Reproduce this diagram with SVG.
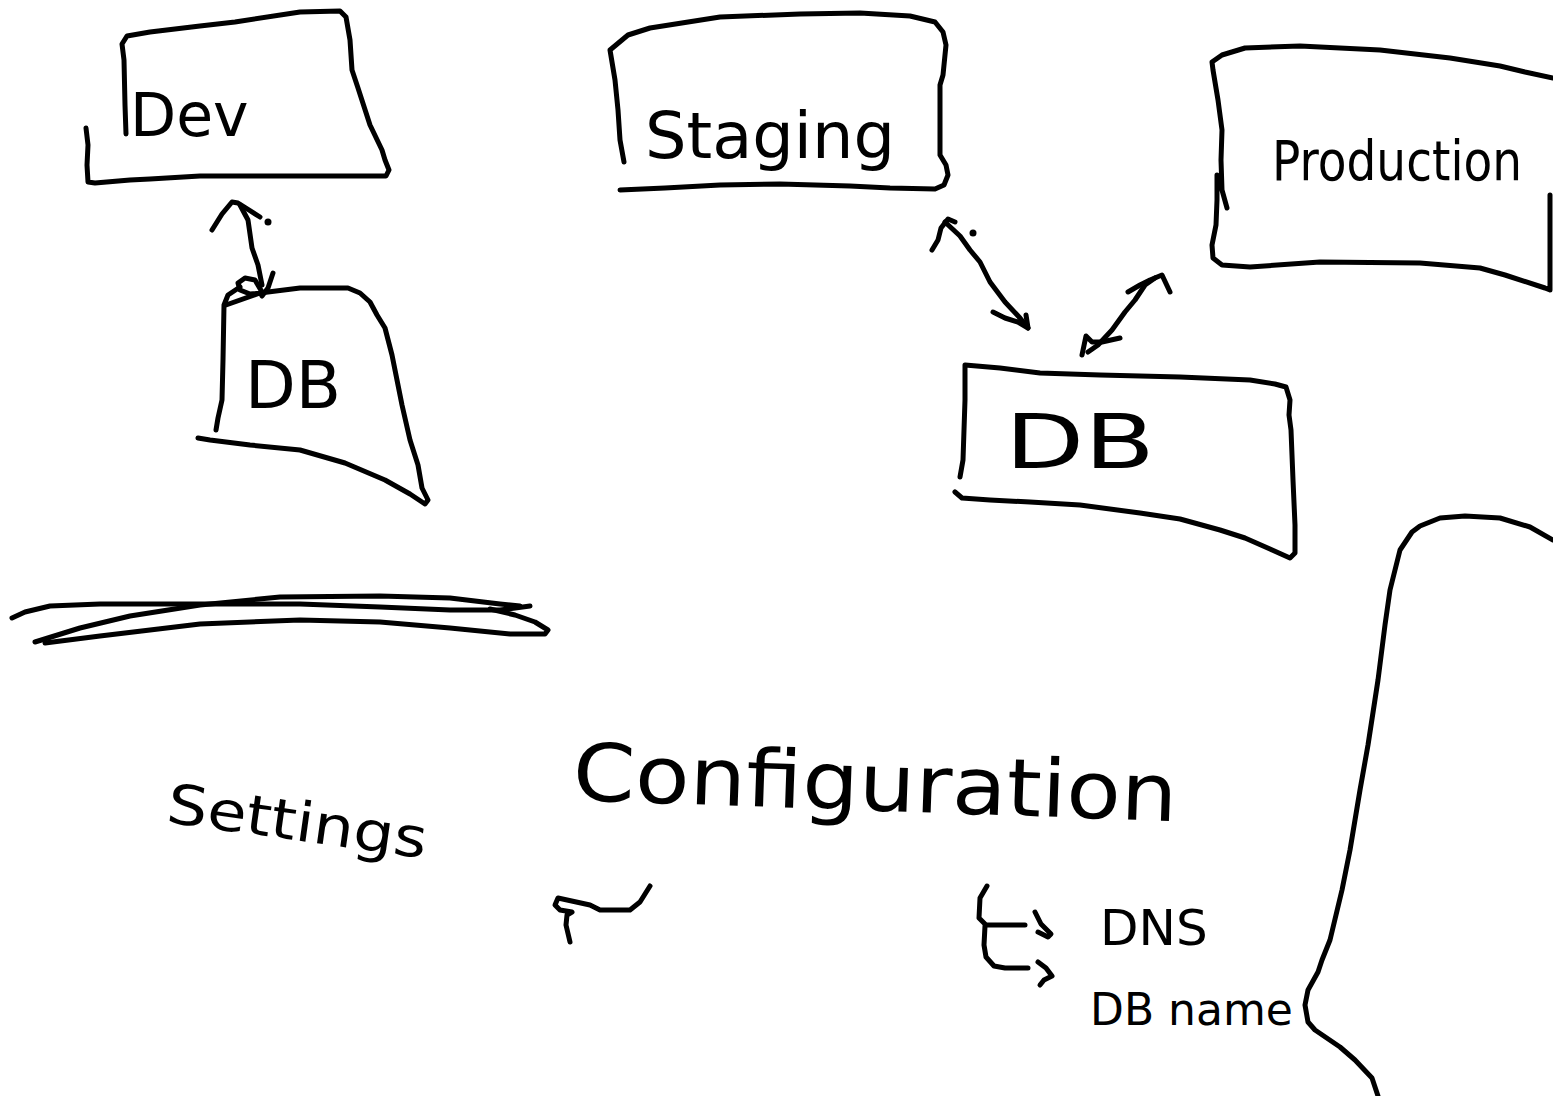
<svg xmlns="http://www.w3.org/2000/svg" width="1553" height="1096" viewBox="0 0 1553 1096">
  <style>
    .ink { fill: none; stroke: #000; stroke-width: 5; stroke-linecap: round; stroke-linejoin: round; }
    .hand { font-family: "DejaVu Sans", "Liberation Sans", sans-serif; fill: #000; }
  </style>
  <rect width="1553" height="1096" fill="#fff"/>

  <!-- Environment boxes -->
  <g id="dev">
    <path class="ink" d="M126,134 L125,105 L124,60 L122,44 L127,36 L150,32 L200,26 L235,22 L300,12 L340,11 L346,17 L350,40 L352,70 L358,88 L370,125 L382,150 L385,160 L389,170 L386,176 L300,176 L200,176 L150,179 L130,180 L95,183 L88,182 L87,165 L88,145 L86,128"/>
    <text class="hand" x="130" y="136" font-size="60">Dev</text>
  </g>

  <g id="dev-db">
    <path class="ink" d="M216,430 L218,418 L222,400 L223,360 L224,305 L228,295 L240,287 M226,305 L260,293 L300,288 L348,288 L360,293 L370,302 L377,315 L385,328 L392,355 L402,405 L410,440 L418,465 L422,488 L428,500 L425,504 L410,494 L385,480 L345,463 L300,450 L250,445 L210,440 L198,438"/>
    <text class="hand" x="245" y="408" font-size="66">DB</text>
  </g>

  <g id="staging">
    <path class="ink" d="M624,162 L620,140 L618,110 L615,80 L610,50 L628,35 L650,28 L720,17 L800,14 L860,13 L910,16 L935,22 L943,32 L946,45 L943,75 L940,85 L940,155 L946,165 L948,175 L944,185 L935,189 L890,188 L850,186 L780,184 L720,185 L665,188 L620,190"/>
    <text class="hand" x="645" y="158" font-size="64" textLength="250" lengthAdjust="spacingAndGlyphs">Staging</text>
  </g>

  <g id="production">
    <path class="ink" d="M1227,208 L1222,190 L1221,160 L1222,130 L1218,100 L1213,70 L1212,62 L1222,55 L1245,48 L1300,46 L1380,50 L1450,58 L1500,66 L1525,72 L1553,78 M1550,195 L1550,290 L1545,288 L1505,275 L1480,268 L1420,263 L1320,262 L1250,267 L1222,265 L1213,258 L1212,245 L1216,225 L1217,200 L1217,175"/>
    <text class="hand" x="1272" y="180" font-size="56" textLength="250" lengthAdjust="spacingAndGlyphs">Production</text>
  </g>

  <g id="prod-db">
    <path class="ink" d="M960,477 L963,460 L965,400 L965,365 L1000,368 L1040,373 L1100,375 L1180,377 L1250,380 L1275,384 L1286,387 L1290,400 L1289,415 L1291,430 L1293,480 L1295,525 L1295,553 L1290,558 L1270,549 L1245,538 L1220,530 L1180,519 L1140,513 L1080,505 L1030,502 L990,500 L962,498 L955,492"/>
    <text class="hand" x="1005" y="468" font-size="75" textLength="150" lengthAdjust="spacingAndGlyphs">DB</text>
  </g>

  <!-- Right-hand outline -->
  <g id="outline">
    <path class="ink" d="M1378,1096 L1372,1078 L1355,1060 L1340,1047 L1315,1030 L1308,1022 L1305,1005 L1308,990 L1318,972 L1322,960 L1330,940 L1336,915 L1342,890 L1350,850 L1360,790 L1368,745 L1378,680 L1385,625 L1390,590 L1395,570 L1400,550 L1412,532 L1420,526 L1440,518 L1465,516 L1500,518 L1530,527 L1553,540"/>
  </g>

  <!-- Crossed-out stroke -->
  <g id="scribble">
    <path class="ink" d="M12,618 L25,612 L50,606 L100,604 L200,604 L300,604 L380,607 L450,610 L500,610 L530,606"/>
    <path class="ink" d="M35,642 L80,628 L130,616 L200,605 L280,597 L380,596 L450,598 L500,604 L520,606"/>
    <path class="ink" d="M45,643 L100,636 L200,624 L300,620 L380,622 L450,628 L510,634 L545,634 L548,630 L535,622 L515,615 L490,609"/>
  </g>

  <!-- Labels -->
  <g id="settings">
    <text class="hand" x="165" y="822" font-size="55" textLength="262" lengthAdjust="spacingAndGlyphs" transform="rotate(8 165 822)">Settings</text>
  </g>

  <g id="configuration">
    <text class="hand" x="572" y="800" font-size="80" textLength="605" lengthAdjust="spacingAndGlyphs" transform="rotate(2 572 800)">Configuration</text>
  </g>

  <g id="squiggle">
    <path class="ink" d="M570,942 L566,925 L567,915 L572,912 L560,910 L555,905 L558,898 L590,905 L600,910 L630,910 L640,902 L650,886"/>
  </g>

  <g id="dns">
    <text class="hand" x="1100" y="945" font-size="50">DNS</text>
  </g>

  <g id="db-name">
    <text class="hand" x="1090" y="1025" font-size="44">DB name</text>
  </g>

  <!-- Connectors -->
  <g id="connectors">
    <!-- Dev to dev DB -->
    <path class="ink" d="M240,205 L248,220 L252,248 L258,265 L262,285"/>
    <path class="ink" d="M212,230 L222,214 L232,202 L238,203 L260,217"/>
    <circle cx="268" cy="222" r="3.5" fill="#000"/>
    <path class="ink" d="M273,273 L268,288 L262,296 M262,293 L250,294 L240,290 L238,283 L245,278 L255,280 L262,292"/>

    <!-- Staging to production DB -->
    <path class="ink" d="M945,222 L960,236 L970,250 L980,262 L990,282 L1005,302 L1020,318 L1028,328"/>
    <path class="ink" d="M932,250 L938,240 L941,228 L948,219 L955,222"/>
    <circle cx="973" cy="233" r="3.5" fill="#000"/>
    <path class="ink" d="M993,312 L1005,318 L1018,322 L1028,328 L1026,315"/>

    <!-- Production DB to production -->
    <path class="ink" d="M1088,352 L1098,345 L1112,330 L1125,312 L1135,300 L1145,285 L1155,278"/>
    <path class="ink" d="M1128,292 L1140,285 L1150,280 L1162,275 L1170,292"/>
    <path class="ink" d="M1082,355 L1086,336 L1092,342 L1102,342 L1120,338"/>

    <!-- Configuration branches -->
    <path class="ink" d="M987,886 L980,898 L979,918 L986,925 L1025,925"/>
    <path class="ink" d="M1035,912 L1041,924 L1051,934 L1048,937 L1038,932"/>
    <path class="ink" d="M985,926 L984,945 L986,957 L994,966 L1005,968 L1028,968"/>
    <path class="ink" d="M1038,962 L1046,968 L1052,976 L1044,980 L1040,985"/>
  </g>
</svg>
